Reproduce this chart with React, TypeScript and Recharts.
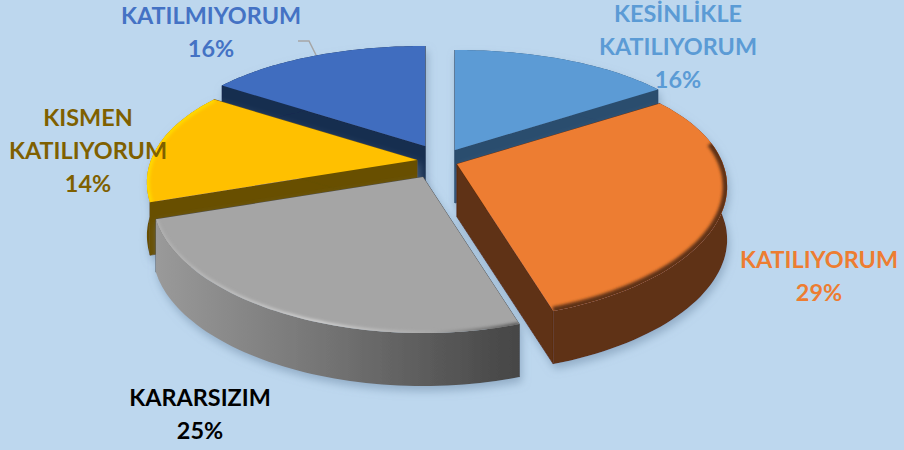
import { PieChart, Pie } from "recharts";

const categories = ["KESİNLİKLE KATILIYORUM", "KATILIYORUM", "KARARSIZIM", "KISMEN KATILIYORUM", "KATILMIYORUM"];
const values = [16, 29, 25, 14, 16];

const labelLines = [["KESİNLİKLE", "KATILIYORUM"], ["KATILIYORUM"], ["KARARSIZIM"], ["KISMEN", "KATILIYORUM"], ["KATILMIYORUM"]];
const labelColors = ["#5B9BD5", "#ED7D31", "#000000", "#7F6000", "#4472C4"];
const labelX = [678, 819, 200, 88, 211];
const labelY = [22, 268, 406, 126, 24];

const topColors = ["#5B9BD5", "#ED7D31", "#A5A5A5", "#FFC000", "#3F6DBF"];
const wallColors = ["#2C4D6E", "#5E3012", "url(#grayWall)", "#675000", "#192D50"];
const sideColors = ["#2C4D6E", "#5E3012", "#4A4A4A", "#675000", "#192D50"];
const rimColors = ["#5B9BD5", "#5E3012", "url(#grayRim)", "#FFD800", "#3F6DBF"];
const rimWidths = [0, 9, 4, 6, 0];
// share of the arc that gets no rim shading, from the slice's start
const rimSkip = [0, 0.22, 0, 0, 0];

// explode offset per slice, from the pie centre
const offsetX = [17, 19, -15, -21, -13];
const offsetY = [-10, 4, 17, 0, -14];

// paint order, back to front
const paintOrder = [4, 0, 3, 1, 2];

const WIDTH = 904;
const HEIGHT = 450;
const DEPTH = 53;

const chartData = categories.map((name, index) => ({ name, value: values[index], index }));

// tilted disc: front of the pie is wider and taller than the back
function project(theta: number) {
  const rad = (theta * Math.PI) / 180;
  const v = -Math.cos(rad);
  return { x: 266 * (1 + 0.18 * v) * Math.sin(rad), y: v * (128 + 28 * v) };
}

function arcPoints(a: number, b: number) {
  const pts = [];
  for (let i = 0; i <= 60; i++) pts.push(project(a + ((b - a) * i) / 60));
  return pts;
}

function Slice3D(props: any) {
  const { cx, cy, startAngle, endAngle, payload } = props;
  const i = payload.index;
  const ox = cx + offsetX[i];
  const oy = cy + offsetY[i];
  const rim = arcPoints(90 - startAngle, 90 - endAngle).map((p) => ({ x: ox + p.x, y: oy + p.y }));
  const line = (pts: { x: number; y: number }[]) => pts.map((p) => `${p.x.toFixed(1)},${p.y.toFixed(1)}`).join(" L");
  const down = (pts: { x: number; y: number }[]) => pts.map((p) => ({ x: p.x, y: p.y + DEPTH }));
  const top = `M${ox},${oy} L${line(rim)} Z`;
  const first = rim[0];
  const last = rim[rim.length - 1];
  const wallRim = `M${line(rim)} L${line(down(rim).reverse())} Z`;
  const wallA = `M${ox},${oy} L${first.x},${first.y} L${first.x},${first.y + DEPTH} L${ox},${oy + DEPTH} Z`;
  const wallB = `M${ox},${oy} L${last.x},${last.y} L${last.x},${last.y + DEPTH} L${ox},${oy + DEPTH} Z`;
  const shaded = rim.slice(Math.round(rimSkip[i] * rim.length));
  return (
    <g>
      <defs>
        <clipPath id={`topClip${i}`}>
          <path d={top} />
        </clipPath>
      </defs>
      <g filter="url(#sliceShadow)">
        <path d={wallA} fill={sideColors[i]} stroke={sideColors[i]} strokeWidth={0.8} />
        <path d={wallB} fill={sideColors[i]} stroke={sideColors[i]} strokeWidth={0.8} />
        <path d={wallRim} fill={wallColors[i]} />
        <path d={top} fill={topColors[i]} />
      </g>
      {rimWidths[i] > 0 && (
        <g clipPath={`url(#topClip${i})`}>
          <path
            d={`M${line(shaded)}`}
            fill="none"
            stroke={rimColors[i]}
            strokeWidth={rimWidths[i]}
            filter="url(#rimBlur)"
          />
        </g>
      )}
    </g>
  );
}

function SliceLabel(props: any) {
  const { index, percent } = props;
  const lines = labelLines[index];
  const lineGap = 33;
  return (
    <g>
      {index === 4 && <polyline points="298,41 309,41 316,55" fill="none" stroke="#A6A6A6" strokeWidth={1.5} />}
      <text
        x={labelX[index]}
        y={labelY[index]}
        textAnchor="middle"
        fill={labelColors[index]}
        fontFamily="Lato, sans-serif"
        fontWeight={700}
        fontSize={23.4}
      >
        {lines.map((t: string, n: number) => (
          <tspan key={n} x={labelX[index]} dy={n === 0 ? 0 : lineGap}>
            {t}
          </tspan>
        ))}
        <tspan x={labelX[index]} dy={lineGap}>
          {`${Math.round(percent * 100)}%`}
        </tspan>
      </text>
    </g>
  );
}

export default function App() {
  return (
    <div style={{ position: "absolute", left: 0, top: 0, width: WIDTH, height: HEIGHT, background: "#BDD7EE", overflow: "hidden" }}>
      <PieChart width={WIDTH} height={HEIGHT} margin={{ top: 0, right: 0, bottom: 0, left: 0 }}>
        <defs>
          <linearGradient id="grayWall" gradientUnits="userSpaceOnUse" x1="155" y1="0" x2="525" y2="0">
            <stop offset="0" stopColor="#9A9A9A" />
            <stop offset="0.45" stopColor="#757575" />
            <stop offset="1" stopColor="#444444" />
          </linearGradient>
          <linearGradient id="grayRim" gradientUnits="userSpaceOnUse" x1="155" y1="0" x2="525" y2="0">
            <stop offset="0" stopColor="#B0B0B0" />
            <stop offset="0.45" stopColor="#D0D0D0" />
            <stop offset="0.75" stopColor="#A8A8A8" />
            <stop offset="1" stopColor="#505050" />
          </linearGradient>
          <filter id="sliceShadow" x="-15%" y="-15%" width="130%" height="130%">
            <feDropShadow dx="2" dy="5" stdDeviation="4" floodColor="#6F8CA8" floodOpacity="0.55" />
          </filter>
          <filter id="rimBlur" x="-10%" y="-10%" width="120%" height="120%">
            <feGaussianBlur stdDeviation="1.5" />
          </filter>
        </defs>
        {paintOrder.map((sliceIndex, n) => (
          <Pie
            key={sliceIndex}
            data={chartData}
            dataKey="value"
            nameKey="name"
            cx={438}
            cy={160}
            outerRadius={150}
            startAngle={90}
            endAngle={-270}
            stroke="none"
            isAnimationActive={false}
            labelLine={false}
            label={n === paintOrder.length - 1 ? SliceLabel : false}
            shape={(props: any) => (props.payload.index === sliceIndex ? <Slice3D {...props} /> : <g />)}
          />
        ))}
      </PieChart>
    </div>
  );
}
